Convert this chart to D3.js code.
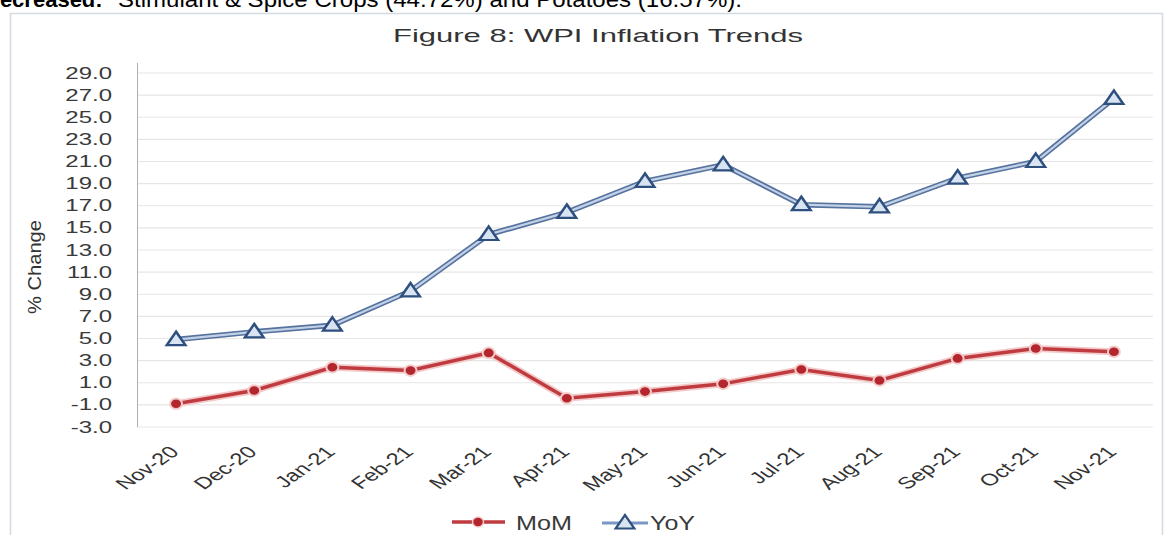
<!DOCTYPE html>
<html>
<head>
<meta charset="utf-8">
<script src="https://cdn.jsdelivr.net/npm/d3@7"></script>
<style>
  body { margin: 0; background: #fff; }
  svg { display: block; font-family: Arial, "Liberation Sans", sans-serif; }
</style>
</head>
<body>
<svg id="chart" width="1173" height="535"></svg>
<script>
// chart values
const months = ["Nov-20", "Dec-20", "Jan-21", "Feb-21", "Mar-21", "Apr-21", "May-21",
                "Jun-21", "Jul-21", "Aug-21", "Sep-21", "Oct-21", "Nov-21"];
const mom = [-0.9, 0.3, 2.4, 2.1, 3.7, -0.4, 0.2, 0.9, 2.2, 1.2, 3.2, 4.1, 3.8];
const yoy = [4.9, 5.6, 6.2, 9.3, 14.4, 16.4, 19.2, 20.7, 17.1, 16.9, 19.5, 21.0, 26.7];
const yTicks = d3.range(-3, 30, 2);

// the source picture is stretched sideways, so text is widened to match
const stretch = 1.5;

const svg = d3.select("#chart");

// text line above the figure (cut off by the page)
svg.append("text").attr("x", -16).attr("y", 7)
    .attr("font-size", 22).attr("font-weight", "bold").attr("fill", "#000")
    .text("Decreased:");
svg.append("text").attr("x", 118).attr("y", 7)
    .attr("font-size", 22).attr("fill", "#000")
    .attr("textLength", 624).attr("lengthAdjust", "spacingAndGlyphs")
    .text("Stimulant & Spice Crops (44.72%) and Potatoes (16.57%).");

// chart frame
svg.append("rect")
    .attr("x", 10.5).attr("y", 13.5).attr("width", 1152).attr("height", 540)
    .attr("fill", "#fff").attr("stroke", "#d3d9e2").attr("stroke-width", 1.5);

svg.append("text")
    .attr("x", 598).attr("y", 42)
    .attr("text-anchor", "middle")
    .attr("font-size", 19).attr("fill", "#333")
    .attr("textLength", 410).attr("lengthAdjust", "spacingAndGlyphs")
    .text("Figure 8: WPI Inflation Trends");

const x = d3.scaleBand().domain(months).range([137, 1153]);
const cx = d => x(d) + x.bandwidth() / 2;
const y = d3.scaleLinear().domain([-3, 29]).range([427, 73]);

// gridlines
svg.append("g")
    .selectAll("line").data(yTicks).enter().append("line")
    .attr("x1", 137).attr("x2", 1153)
    .attr("y1", d => y(d)).attr("y2", d => y(d))
    .attr("stroke", "#e6e6e6").attr("stroke-width", 1.2);

// y axis (plain hyphen for negatives, like the source)
let yAxis = svg.append("g")
    .attr("transform", "translate(137,0)")
    .call(d3.axisLeft(y).tickValues(yTicks).tickFormat(d => d.toFixed(1)).tickSize(0));
yAxis.select(".domain").remove();
yAxis.selectAll("text")
    .attr("x", 0)
    .attr("transform", "translate(-25,0) scale(" + stretch + ",1)")
    .attr("font-size", 16).attr("fill", "#3a3a3a")
    .attr("font-family", "Arial, 'Liberation Sans', sans-serif");
svg.append("line")
    .attr("x1", 137.5).attr("x2", 137.5).attr("y1", 63).attr("y2", 427)
    .attr("stroke", "#b0b0b0");

svg.append("text")
    .attr("transform", "translate(41,267) rotate(-90)")
    .attr("text-anchor", "middle")
    .attr("font-size", 19).attr("fill", "#333")
    .attr("font-family", "'Liberation Sans Narrow', 'Arial Narrow', sans-serif")
    .attr("textLength", 94).attr("lengthAdjust", "spacingAndGlyphs")
    .text("% Change");

// x labels
svg.append("g")
    .selectAll("text").data(months).enter().append("text")
    .attr("transform", d => "translate(" + (cx(d) + 4) + ",453) scale(1.45,1) rotate(-45)")
    .attr("text-anchor", "end")
    .attr("font-size", 16.5).attr("fill", "#333")
    .text(d => d);

// YoY line: dark edge with light core
const lineYoy = d3.line().x((d, i) => cx(months[i])).y(d => y(d));
svg.append("path").datum(yoy).attr("d", lineYoy)
    .attr("fill", "none").attr("stroke", "#56739f").attr("stroke-width", 5.5);
svg.append("path").datum(yoy).attr("d", lineYoy)
    .attr("fill", "none").attr("stroke", "#c2d1e6").attr("stroke-width", 2.2);

const tri = d3.symbol().type(d3.symbolTriangle).size(105);
svg.append("g")
    .selectAll("path").data(yoy).enter().append("path")
    .attr("d", tri)
    .attr("transform", (d, i) => "translate(" + cx(months[i]) + "," + (y(d) + 1) + ") scale(1.2,1)")
    .attr("fill", "#d9e4f2").attr("stroke", "#2f4f7f").attr("stroke-width", 2.2);

// MoM line with soft halo
const lineMom = d3.line().x((d, i) => cx(months[i])).y(d => y(d));
svg.append("path").datum(mom).attr("d", lineMom)
    .attr("fill", "none").attr("stroke", "#f3c9c9").attr("stroke-width", 7);
svg.append("path").datum(mom).attr("d", lineMom)
    .attr("fill", "none").attr("stroke", "#bf3b3f").attr("stroke-width", 3.5);

svg.append("g")
    .selectAll("ellipse").data(mom).enter().append("ellipse")
    .attr("cx", (d, i) => cx(months[i])).attr("cy", d => y(d))
    .attr("rx", 6).attr("ry", 5.3)
    .attr("fill", "#b3262d").attr("stroke", "#f4cccc").attr("stroke-width", 2);

// legend
let leg = svg.append("g");
leg.append("line").attr("x1", 452).attr("x2", 505).attr("y1", 522).attr("y2", 522)
    .attr("stroke", "#bf3b3f").attr("stroke-width", 3.5);
leg.append("ellipse").attr("cx", 478).attr("cy", 522).attr("rx", 5.5).attr("ry", 5)
    .attr("fill", "#b3262d").attr("stroke", "#f4cccc").attr("stroke-width", 1.5);
leg.append("text").attr("x", 516).attr("y", 530).attr("font-size", 20).attr("fill", "#3a3a3a")
    .attr("textLength", 56).attr("lengthAdjust", "spacingAndGlyphs").text("MoM");

leg.append("line").attr("x1", 602).attr("x2", 648).attr("y1", 523).attr("y2", 523)
    .attr("stroke", "#7a97c4").attr("stroke-width", 3);
leg.append("path").attr("d", tri)
    .attr("transform", "translate(625,524) scale(1.2,1)")
    .attr("fill", "#d9e4f2").attr("stroke", "#2f4f7f").attr("stroke-width", 2);
leg.append("text").attr("x", 650).attr("y", 530).attr("font-size", 20).attr("fill", "#3a3a3a")
    .attr("textLength", 45).attr("lengthAdjust", "spacingAndGlyphs").text("YoY");
</script>
</body>
</html>
